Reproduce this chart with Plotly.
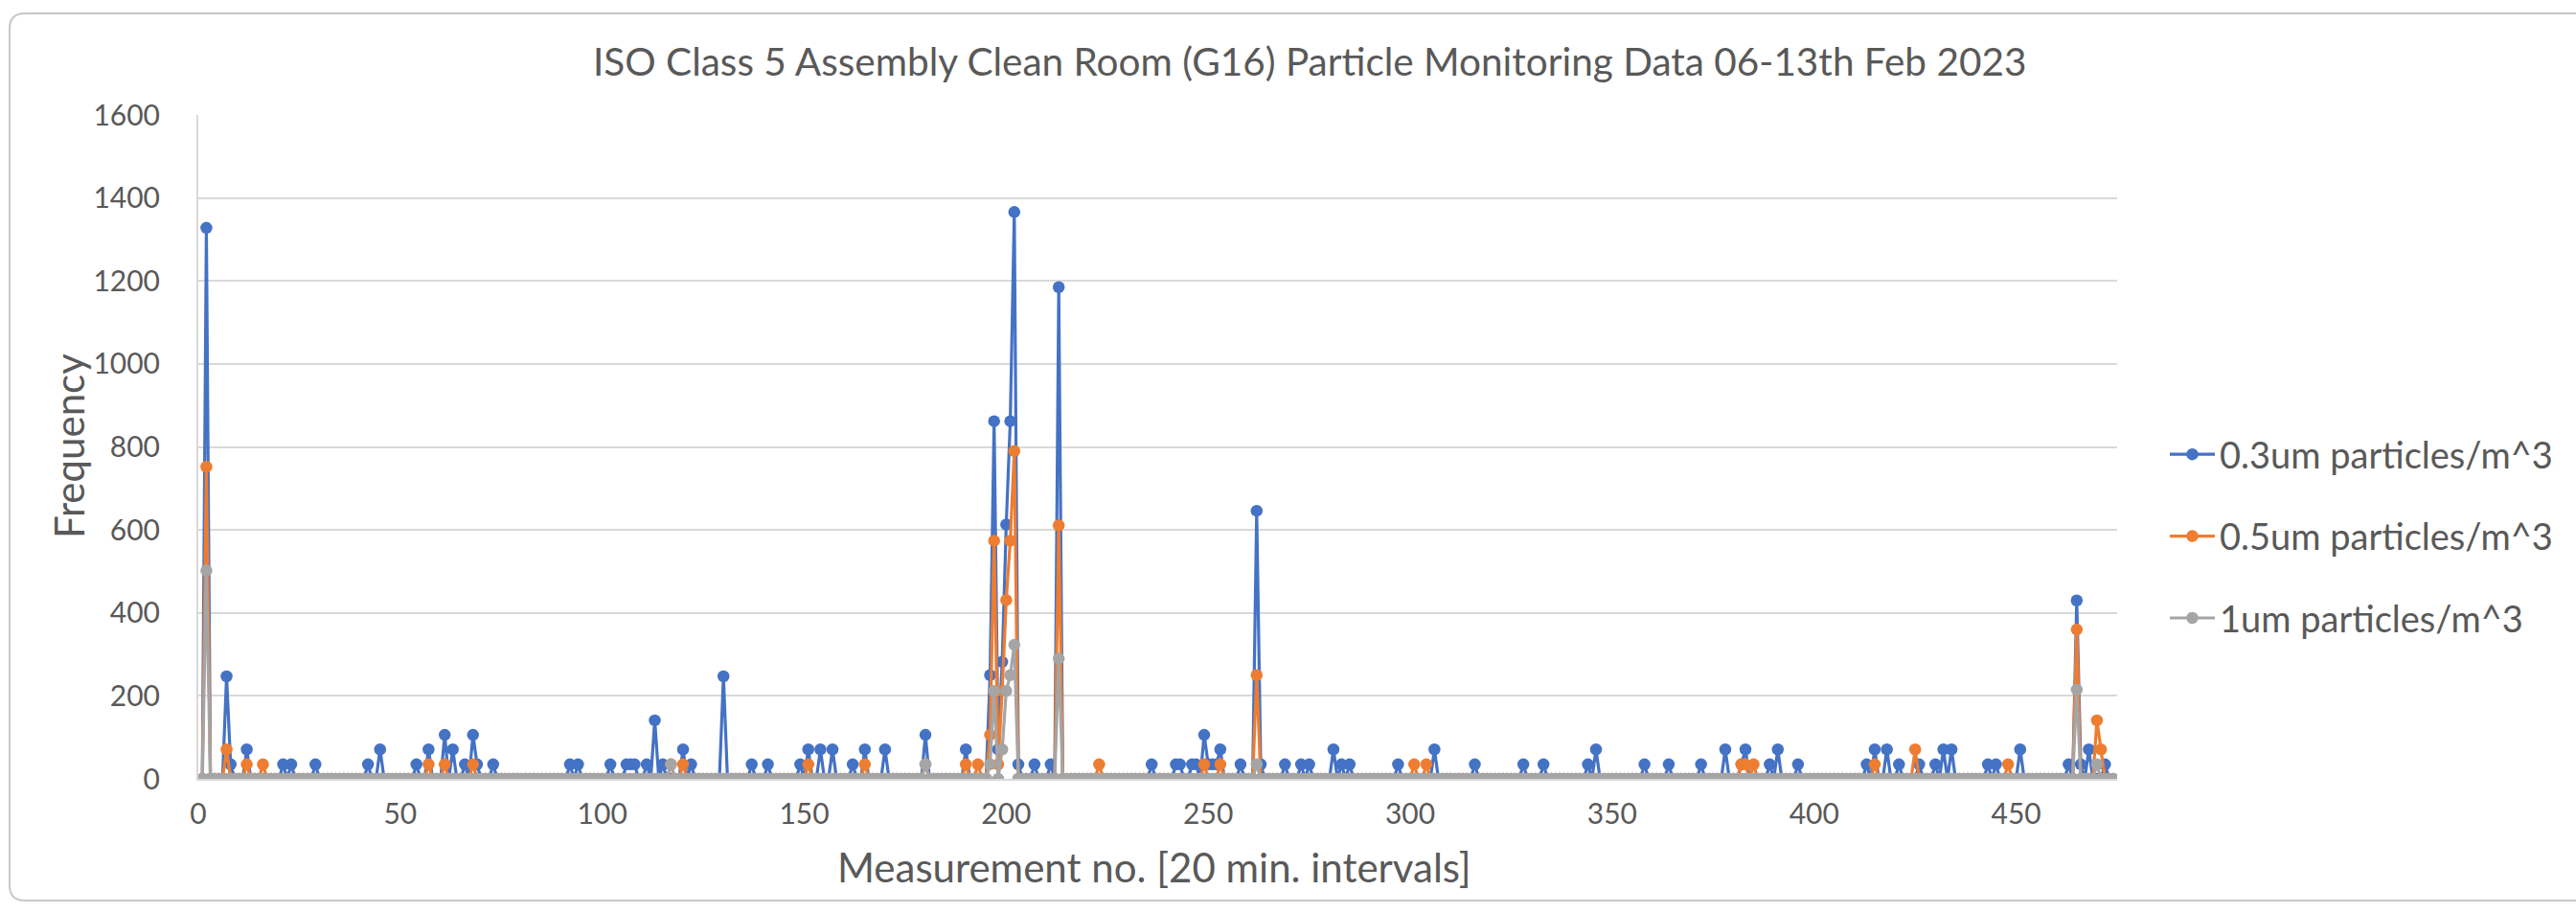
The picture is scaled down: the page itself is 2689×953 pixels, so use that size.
import plotly.graph_objects as go

# ---------------- data ----------------
measurement_no = list(range(1, 475))

# non-zero readings; every other measurement reads 0
blue_03um = {
    2: 1328, 7: 247, 8: 35, 12: 71, 21: 35, 23: 35, 29: 35, 42: 35, 45: 71,
    54: 35, 57: 71, 61: 106, 63: 71, 66: 35, 68: 106, 69: 35, 73: 35,
    92: 35, 94: 35, 102: 35, 106: 35, 107: 35, 108: 35, 111: 35, 113: 141,
    115: 35, 120: 71, 122: 35, 130: 247, 137: 35, 141: 35, 149: 35,
    151: 71, 154: 71, 157: 71, 162: 35, 165: 71, 170: 71, 180: 106,
    190: 71, 196: 250, 197: 862, 198: 71, 199: 282, 200: 613, 201: 862,
    202: 1366, 203: 35, 207: 35, 211: 35, 213: 1185, 236: 35, 242: 35,
    243: 35, 246: 35, 247: 35, 249: 106, 250: 35, 251: 35, 252: 35,
    253: 71, 258: 35, 262: 646, 263: 35, 269: 35, 273: 35, 275: 35,
    281: 71, 283: 35, 285: 35, 297: 35, 306: 71, 316: 35, 328: 35,
    333: 35, 344: 35, 346: 71, 358: 35, 364: 35, 372: 35, 378: 71,
    382: 35, 383: 71, 389: 35, 391: 71, 396: 35, 413: 35, 415: 71,
    418: 71, 421: 35, 426: 35, 430: 35, 432: 71, 434: 71, 443: 35,
    445: 35, 451: 71, 463: 35, 465: 430, 466: 35, 468: 71, 472: 35,
}
orange_05um = {
    2: 752, 7: 71, 12: 35, 16: 35, 57: 35, 61: 35, 68: 35, 117: 35,
    120: 35, 151: 35, 165: 35, 180: 35, 190: 35, 193: 35, 196: 106,
    197: 574, 198: 35, 199: 212, 200: 431, 201: 574, 202: 790, 213: 611,
    223: 35, 249: 35, 253: 35, 262: 250, 301: 35, 304: 35, 382: 35,
    383: 35, 385: 35, 415: 35, 425: 71, 448: 35, 465: 360, 470: 141,
    471: 71,
}
gray_1um = {
    2: 502, 117: 35, 180: 35, 196: 35, 197: 212, 199: 71, 200: 212,
    201: 250, 202: 323, 213: 290, 262: 35, 465: 215, 470: 35,
}

series_names = ["0.3um particles/m^3", "0.5um particles/m^3", "1um particles/m^3"]
series_readings = [blue_03um, orange_05um, gray_1um]
series_colors = ["#4472C4", "#ED7D31", "#A5A5A5"]

x_ticks = [0, 50, 100, 150, 200, 250, 300, 350, 400, 450]
y_ticks = [0, 200, 400, 600, 800, 1000, 1200, 1400, 1600]

# ---------------- layout geometry ----------------
W, H = 2689, 953
PL, PR, PT, PB = 207, 2210, 120, 813
FONT = "Lato"
TXT = "#595959"


def pxx(x):
    return (x - PL) / (PR - PL)


def pyy(y):
    return (PB - y) / (PB - PT)


fig = go.Figure()
for i, (name, rd, col) in enumerate(zip(series_names, series_readings, series_colors)):
    yvals = [rd.get(m, 0) for m in measurement_no]
    fig.add_trace(go.Scatter(
        x=measurement_no, y=yvals, name=name, mode="lines+markers",
        line=dict(color=col, width=3.2),
        marker=dict(color=col, size=12.5, line=dict(width=0)),
        legendgroup=f"g{i}",
    ))

# chart border: top, left and bottom edges, rounded on the left corners
bx, btop, bbot, r = 10, 14, 940, 16
border_col = "#c8c8c8"
shapes = [
    dict(type="line", xref="paper", yref="paper", x0=pxx(bx + r), x1=pxx(W + 2),
         y0=pyy(btop), y1=pyy(btop), line=dict(color=border_col, width=2), layer="below"),
    dict(type="line", xref="paper", yref="paper", x0=pxx(bx + r), x1=pxx(W + 2),
         y0=pyy(bbot), y1=pyy(bbot), line=dict(color=border_col, width=2), layer="below"),
    dict(type="line", xref="paper", yref="paper", x0=pxx(bx), x1=pxx(bx),
         y0=pyy(btop + r), y1=pyy(bbot - r), line=dict(color=border_col, width=2), layer="below"),
    dict(type="path", xref="paper", yref="paper", layer="below",
         path=f"M {pxx(bx + r)} {pyy(btop)} Q {pxx(bx)} {pyy(btop)} {pxx(bx)} {pyy(btop + r)}",
         line=dict(color=border_col, width=2)),
    dict(type="path", xref="paper", yref="paper", layer="below",
         path=f"M {pxx(bx)} {pyy(bbot - r)} Q {pxx(bx)} {pyy(bbot)} {pxx(bx + r)} {pyy(bbot)}",
         line=dict(color=border_col, width=2)),
]

fig.update_layout(
    width=W, height=H,
    margin=dict(l=PL, r=W - PR, t=PT, b=H - PB, autoexpand=False),
    paper_bgcolor="white", plot_bgcolor="white",
    font=dict(family=FONT, color=TXT, size=30),
    showlegend=True,
    legend=dict(
        x=pxx(2260), y=pyy(560), xanchor="left", yanchor="middle",
        font=dict(family=FONT, size=38, color=TXT),
        itemwidth=47, tracegroupgap=33, bgcolor="rgba(0,0,0,0)",
    ),
    xaxis=dict(
        range=[0, 475], tickvals=x_ticks, showgrid=False, zeroline=False,
        showline=True, linecolor="#d9d9d9", linewidth=2, ticks="",
        tickfont=dict(family=FONT, size=30, color=TXT), ticklabelstandoff=9,
    ),
    yaxis=dict(
        range=[0, 1600], tickvals=y_ticks, showgrid=True, gridcolor="#d9d9d9",
        gridwidth=2, zeroline=False, showline=True, linecolor="#d9d9d9",
        linewidth=2, ticks="", tickfont=dict(family=FONT, size=30, color=TXT),
        ticklabelstandoff=32,
    ),
    shapes=shapes,
    annotations=[
        dict(text="ISO Class 5 Assembly Clean Room (G16) Particle Monitoring Data 06-13th Feb 2023",
             x=pxx(1367), y=pyy(63), xref="paper", yref="paper", showarrow=False,
             xanchor="center", yanchor="middle", font=dict(family=FONT, size=40.5, color=TXT)),
        dict(text="Frequency", x=pxx(72), y=pyy(466), xref="paper", yref="paper",
             showarrow=False, textangle=-90, xanchor="center", yanchor="middle",
             font=dict(family=FONT, size=42, color=TXT)),
        dict(text="Measurement no. [20 min. intervals]", x=pxx(1205), y=pyy(905),
             xref="paper", yref="paper", showarrow=False, xanchor="center",
             yanchor="middle", font=dict(family=FONT, size=42, color=TXT)),
    ],
)

fig.write_html("out.html")
